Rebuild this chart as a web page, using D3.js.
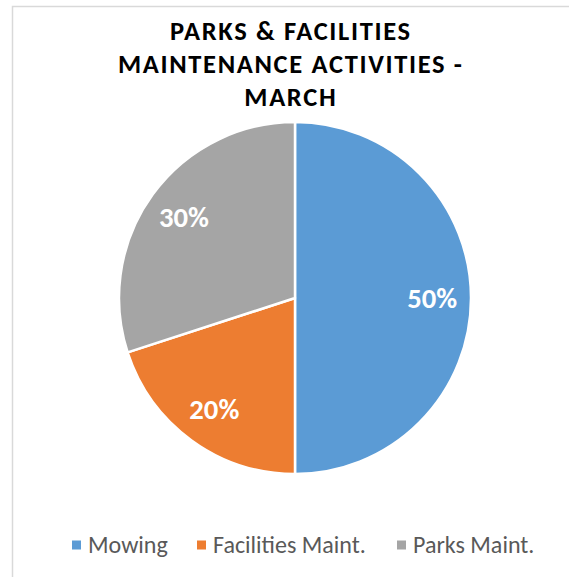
<!DOCTYPE html>
<html>
<head>
<meta charset="utf-8">
<script src="https://cdn.jsdelivr.net/npm/d3@7"></script>
<style>
  html, body { margin: 0; padding: 0; background: #fff; }
  svg { display: block; }
</style>
</head>
<body>
<div id="chart"></div>
<script>
const categories = ["Mowing", "Facilities Maint.", "Parks Maint."];
const shares = [50, 20, 30];
const colors = ["#5B9BD5", "#ED7D31", "#A5A5A5"];
const titleLines = ["PARKS & FACILITIES", "MAINTENANCE ACTIVITIES -", "MARCH"];

const width = 569, height = 577;
const cx = 295, cy = 298, radius = 176;

const svg = d3.select("#chart").append("svg")
    .attr("width", width)
    .attr("height", height);

// chart frame
svg.append("rect")
    .attr("x", 12.5).attr("y", 6.5)
    .attr("width", 600).attr("height", 600)
    .attr("fill", "none")
    .attr("stroke", "#d9d9d9")
    .attr("stroke-width", 1.5);

const fontFamily = "Carlito, Lato, 'Open Sans', 'Liberation Sans', sans-serif";

// scale a text's font size so it spans roughly the width seen in the picture
function fitFont(sel, base, target) {
    sel.attr("font-size", base);
    const w = sel.node().getComputedTextLength();
    const size = base * target / w;
    sel.attr("font-size", size);
    return size;
}

// title: keep the size below the line gap, widen with letter spacing
const lineGap = 33;
const titleSize = 26.5;
const probe = svg.append("text").attr("font-family", fontFamily)
    .attr("font-weight", "bold").attr("font-size", titleSize).text(titleLines[0]);
const probeW = probe.node().getComputedTextLength();
probe.remove();
const spacing = Math.max(0, (240 - probeW) / (titleLines[0].length - 1));

const title = svg.append("text")
    .attr("text-anchor", "middle")
    .attr("font-family", fontFamily)
    .attr("font-weight", "bold")
    .attr("font-size", titleSize)
    .attr("letter-spacing", spacing)
    .attr("fill", "#000");
title.selectAll("tspan").data(titleLines).enter().append("tspan")
    .attr("x", 290 + spacing / 2)
    .attr("y", (d, i) => 40 + i * lineGap)
    .text(d => d);

// pie
const pie = d3.pie().sort(null).value(d => d.value);
const arc = d3.arc().innerRadius(0).outerRadius(radius);
const labelArc = d3.arc().innerRadius(radius * 0.78).outerRadius(radius * 0.78);

const data = categories.map((c, i) => ({ name: c, value: shares[i], color: colors[i] }));
const total = d3.sum(shares);

const g = svg.append("g").attr("transform", `translate(${cx},${cy})`);

const slices = g.selectAll(".slice").data(pie(data)).enter().append("g")
    .attr("class", "slice");

slices.append("path")
    .attr("d", arc)
    .attr("fill", d => d.data.color)
    .attr("stroke", "#fff")
    .attr("stroke-width", 2.5)
    .attr("stroke-linejoin", "round");

const labels = slices.append("text")
    .attr("transform", d => `translate(${labelArc.centroid(d)})`)
    .attr("text-anchor", "middle")
    .attr("dy", "0.35em")
    .attr("font-family", fontFamily)
    .attr("font-weight", "bold")
    .attr("fill", "#fff")
    .text(d => Math.round(d.data.value / total * 100) + "%");
const labelSize = fitFont(d3.select(labels.nodes()[0]), 20, 50);
labels.attr("font-size", labelSize);

// legend
const legendX = [72, 197, 397];
const legend = svg.append("g").attr("class", "legend");
const items = legend.selectAll("g").data(data).enter().append("g")
    .attr("transform", (d, i) => `translate(${legendX[i]},545)`);
items.append("rect")
    .attr("x", 0).attr("y", -4.5)
    .attr("width", 9).attr("height", 9)
    .attr("fill", d => d.color);
const legendText = items.append("text")
    .attr("x", 16)
    .attr("dy", "0.35em")
    .attr("font-family", fontFamily)
    .attr("fill", "#595959")
    .text(d => d.name);
const legendSize = fitFont(d3.select(legendText.nodes()[1]), 18, 153);
legendText.attr("font-size", legendSize);
</script>
</body>
</html>
